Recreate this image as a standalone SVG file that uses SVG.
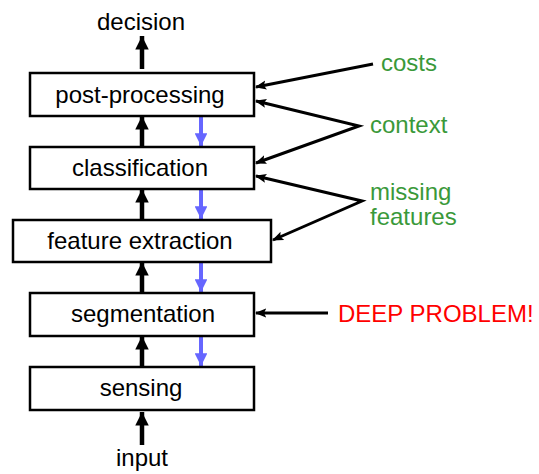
<svg xmlns="http://www.w3.org/2000/svg" width="539" height="474" viewBox="0 0 539 474">
<defs>
<style>
.box{fill:#fff;stroke:#000;stroke-width:2.5}
.t{font-family:"Liberation Sans",Arial,sans-serif;font-size:24px;fill:#000}
.lbl{font-family:"Liberation Sans",Arial,sans-serif;font-size:24px;fill:#3a993a}
.red{font-family:"Liberation Sans",Arial,sans-serif;font-size:24px;fill:#ff0000}
.up{stroke:#000;stroke-width:4.5;fill:none}
.dn{stroke:#6666ff;stroke-width:4;fill:none}
.side{stroke:#000;stroke-width:3;fill:none}
</style>
<marker id="ah" viewBox="0 0 10 10" refX="10" refY="5" markerWidth="3.1" markerHeight="3" orient="auto" markerUnits="strokeWidth"><path d="M0,0L10,5L0,10z" fill="#000"/></marker>
<marker id="ab" viewBox="0 0 10 10" refX="10" refY="5" markerWidth="3.3" markerHeight="3.2" orient="auto" markerUnits="strokeWidth"><path d="M0,0L10,5L0,10z" fill="#6666ff"/></marker>
<marker id="as" viewBox="0 0 10 10" refX="9" refY="5" markerWidth="3.8" markerHeight="3.8" orient="auto-start-reverse" markerUnits="strokeWidth"><path d="M0,1L10,5L0,9L2,5z" fill="#000"/></marker>
</defs>
<rect width="539" height="474" fill="#fff"/>
<g id="connectors">
<line class="up" x1="142" y1="69" x2="142" y2="36" marker-end="url(#ah)"/>
<line class="up" x1="142" y1="147" x2="142" y2="116" marker-end="url(#ah)"/>
<line class="up" x1="142" y1="220" x2="142" y2="189" marker-end="url(#ah)"/>
<line class="up" x1="142" y1="293" x2="142" y2="262" marker-end="url(#ah)"/>
<line class="up" x1="142" y1="367" x2="142" y2="336" marker-end="url(#ah)"/>
<line class="up" x1="142" y1="445" x2="142" y2="412" marker-end="url(#ah)"/>
<line class="dn" x1="201" y1="113" x2="201" y2="146" marker-end="url(#ab)"/>
<line class="dn" x1="201" y1="186" x2="201" y2="219" marker-end="url(#ab)"/>
<line class="dn" x1="201" y1="260" x2="201" y2="292" marker-end="url(#ab)"/>
<line class="dn" x1="201" y1="334" x2="201" y2="366" marker-end="url(#ab)"/>
<line class="side" x1="373" y1="64" x2="256" y2="87" marker-end="url(#as)"/>
<polyline class="side" points="256,101 359,126 256,163" marker-start="url(#as)" marker-end="url(#as)"/>
<polyline class="side" points="256,176 362,201 273,240" marker-start="url(#as)" marker-end="url(#as)"/>
<line class="side" x1="328" y1="313" x2="256" y2="313" marker-end="url(#as)"/>
</g>
<g id="decision"><text class="t" x="141" y="30" text-anchor="middle">decision</text></g>
<g id="post-processing"><rect class="box" x="30" y="73" width="224" height="43"/><text class="t" x="140" y="103" text-anchor="middle">post-processing</text></g>
<g id="classification"><rect class="box" x="30" y="147" width="224" height="42"/><text class="t" x="140" y="176" text-anchor="middle">classification</text></g>
<g id="feature-extraction"><rect class="box" x="13" y="220" width="258" height="42"/><text class="t" x="140" y="249" text-anchor="middle">feature extraction</text></g>
<g id="segmentation"><rect class="box" x="30" y="293" width="224" height="43"/><text class="t" x="143" y="322" text-anchor="middle">segmentation</text></g>
<g id="sensing"><rect class="box" x="30" y="367" width="224" height="43"/><text class="t" x="141" y="396" text-anchor="middle">sensing</text></g>
<g id="input"><text class="t" x="142" y="466" text-anchor="middle">input</text></g>
<g id="costs"><text class="lbl" x="381" y="71">costs</text></g>
<g id="context"><text class="lbl" x="370" y="133">context</text></g>
<g id="missing-features"><text class="lbl" x="370" y="200">missing</text><text class="lbl" x="370" y="225">features</text></g>
<g id="deep-problem"><text class="red" x="338" y="322">DEEP PROBLEM!</text></g>
</svg>
